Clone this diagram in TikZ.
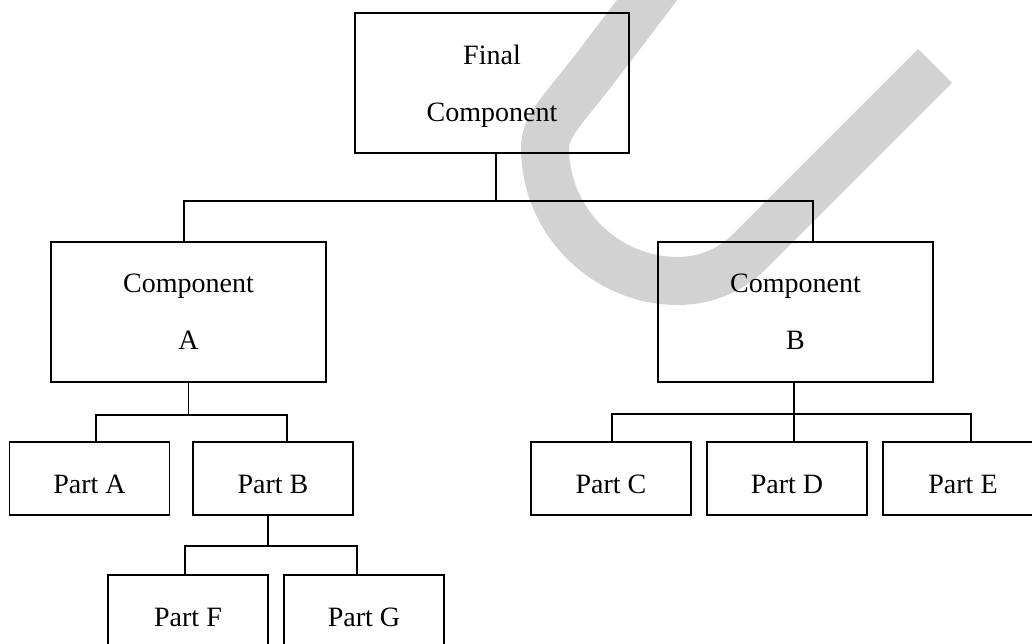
\documentclass[tikz,border=0pt]{standalone}
\usepackage{fontspec}
\setmainfont{Liberation Serif}
\begin{document}
\begin{tikzpicture}
        [
        x=1pt,y=-1pt,
        block/.style={draw,line width=1.8pt,inner sep=0pt,minimum width=275pt,minimum height=140pt,
          align=center,text depth=0pt,font=\fontsize{28}{57}\selectfont},
        part/.style={block,minimum width=160pt,minimum height=73pt,text height=29pt},
        link/.style={line width=1.8pt}
        ]
    \useasboundingbox (0,0) rectangle (1032,643);
    \clip (0,0) rectangle (1032,643);
    \fill[white] (0,0) rectangle (1032,643);
    % watermark stroke behind the chart
    \draw[gray!35,line width=48pt] (660,-17) -- (600,62)
        .. controls (565,108) and (545,125) .. (545,148)
        .. controls (545,221) and (605,281) .. (678,281)
        .. controls (705,281) and (730.5,270.4) .. (749.5,251.5) -- (935,66);
    \node[block,minimum width=274pt] (final) at (492,83) {Final\\Component};
    \node[block] (compA) at (188.5,312) {Component\\A};
    \node[block] (compB) at (795.5,312) {Component\\B};
    \node[part] (partA) at (89.5,478.5) {Part A};
    \node[part] (partB) at (273,478.5) {Part B};
    \node[part] (partC) at (611,478.5) {Part C};
    \node[part] (partD) at (787,478.5) {Part D};
    \node[part] (partE) at (963,478.5) {Part E};
    \node[part] (partF) at (188,611.5) {Part F};
    \node[part] (partG) at (364,611.5) {Part G};
    \draw[link] ([xshift=4]final.south) -- ++(0,47) coordinate (busF);
    \draw[link] ([xshift=-4.5]compA.north) |- (busF) -| ([xshift=17.5]compB.north);
    \draw[link] (compA.south) -- ++(0,32) coordinate (busA);
    \draw[link] ([xshift=6.5]partA.north) |- (busA) -| ([xshift=14]partB.north);
    \draw[link] ([xshift=-5]partB.south) -- ++(0,30) coordinate (busPB);
    \draw[link] ([xshift=-3]partF.north) |- (busPB) -| ([xshift=-7]partG.north);
    \draw[link] ([xshift=-1.5]compB.south) -- ++(0,31) coordinate (busB);
    \draw[link] ([xshift=1]partC.north) |- (busB) -| ([xshift=8]partE.north);
    \draw[link] (busB) -- ([xshift=7]partD.north);
\end{tikzpicture}
\end{document}
